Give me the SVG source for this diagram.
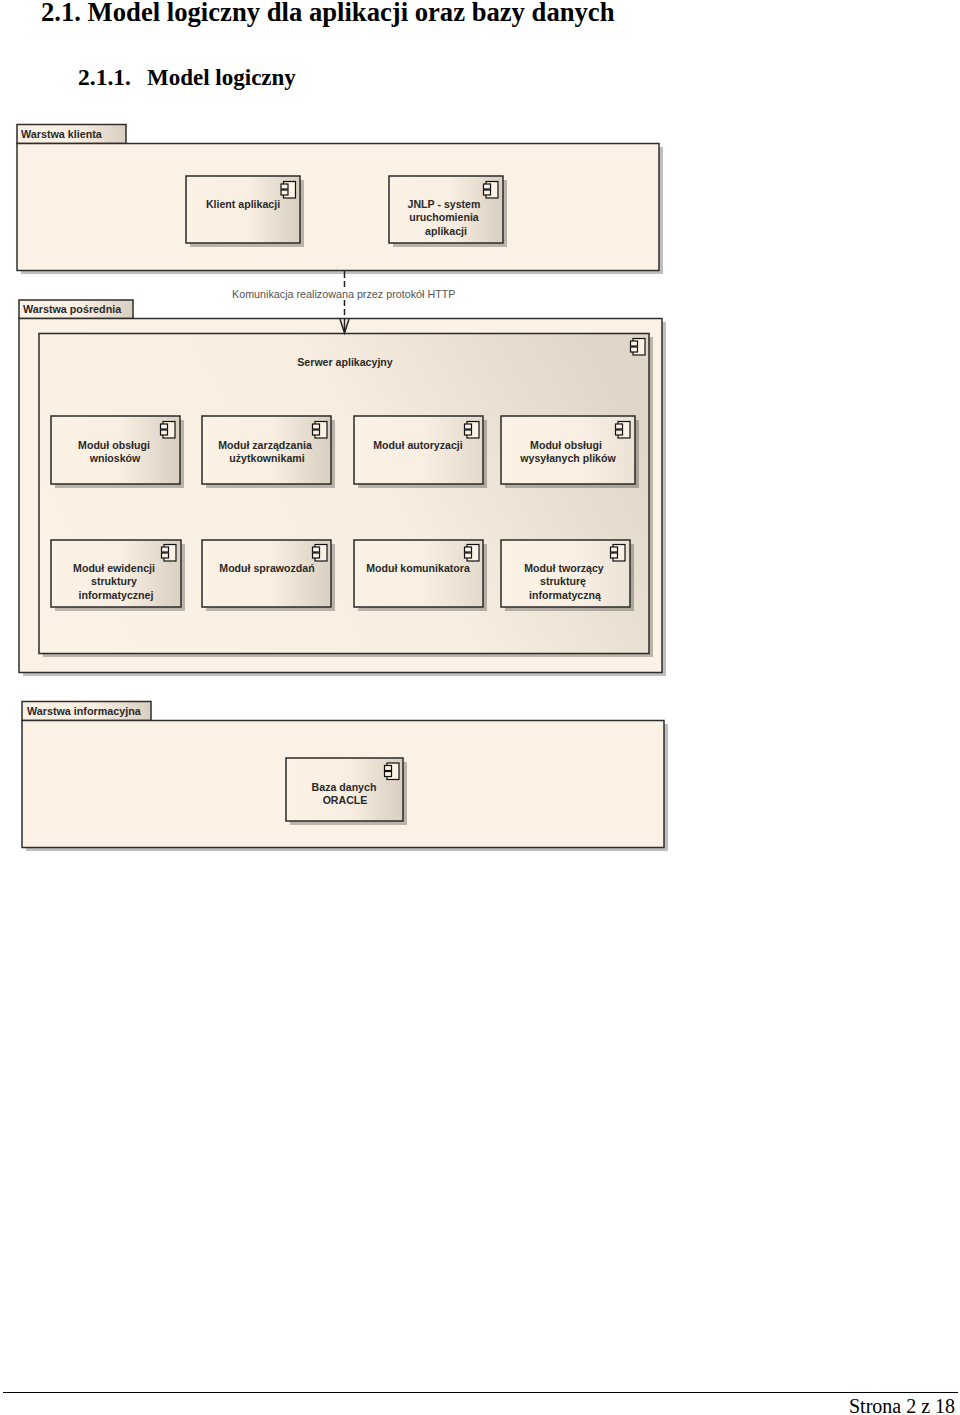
<svg xmlns="http://www.w3.org/2000/svg" xmlns:xlink="http://www.w3.org/1999/xlink" width="960" height="1415" viewBox="0 0 960 1415">
<style>
.h{font-family:"Liberation Serif","Times New Roman",serif;fill:#000;font-weight:bold}
.f{font-family:"Liberation Serif","Times New Roman",serif;fill:#000}
.l{font-family:"Liberation Sans",Arial,sans-serif;font-size:10.6px;font-weight:bold;fill:#2a2a2a;text-anchor:middle}
.t{font-family:"Liberation Sans",Arial,sans-serif;font-size:10.75px;font-weight:bold;fill:#2a2a2a}
.c{font-family:"Liberation Sans",Arial,sans-serif;font-size:10.75px;fill:#555}
.b{fill:#fbf1e4;stroke:#2e2e2e;stroke-width:1.5}
.n{fill:url(#g);stroke:#2a2a2a;stroke-width:1.5}
.n2{fill:url(#g3);stroke:#2a2a2a;stroke-width:1.5}
.n3{fill:url(#g4);stroke:#2a2a2a;stroke-width:1.5}
.sv{fill:url(#g2);stroke:#2a2a2a;stroke-width:1.5}
.tab{fill:url(#g);stroke:#2e2e2e;stroke-width:1.5}
.s{fill:#000;fill-opacity:.25}
.i{fill:#fbf1e4;stroke:#111;stroke-width:1.2}
</style>
<defs>
<linearGradient id="g" x1="0" y1="0" x2="1" y2="0"><stop offset="0" stop-color="#fbf1e4"/><stop offset=".55" stop-color="#f8eee1"/><stop offset="1" stop-color="#d9cfc1"/></linearGradient>
<linearGradient id="g3" x1="0" y1="0" x2="1" y2="0"><stop offset="0" stop-color="#fbf1e4"/><stop offset=".55" stop-color="#f8eee1"/><stop offset="1" stop-color="#e3dacc"/></linearGradient>
<linearGradient id="g4" x1="0" y1="0" x2="1" y2="0"><stop offset="0" stop-color="#fbf1e4"/><stop offset=".6" stop-color="#f9efe2"/><stop offset="1" stop-color="#ebe2d5"/></linearGradient>
<linearGradient id="g2" x1="0" y1="0.6" x2="1" y2="0.3"><stop offset="0" stop-color="#fbf1e4"/><stop offset=".55" stop-color="#f7ede0"/><stop offset="1" stop-color="#e0d6c7"/></linearGradient>
<symbol id="ic" width="16" height="18" viewBox="0 0 16 18" overflow="visible">
<rect class="i" x="3" y="0.500" width="12" height="16.500"/>
<rect class="i" x="0.500" y="3" width="7" height="5"/>
<rect class="i" x="0.500" y="9" width="7" height="5"/>
</symbol>
</defs>
<rect width="960" height="1415" fill="#fff"/>
<text class="h" x="41" y="21" font-size="26.650">2.1. Model logiczny dla aplikacji oraz bazy danych</text>
<text class="h" x="78" y="85" font-size="23.500">2.1.1.</text>
<text class="h" x="147" y="85" font-size="23">Model logiczny</text>

<g id="warstwa-klienta">
<rect class="s" x="21" y="147" width="642" height="127"/>
<rect class="tab" x="17" y="124.500" width="109" height="19"/>
<rect class="b" x="17" y="143.500" width="642" height="127"/>
<text class="t" x="21" y="138">Warstwa klienta</text>
</g>
<g id="klient-aplikacji">
<rect class="s" x="190" y="180" width="114" height="67"/>
<rect class="n" x="186" y="176" width="114" height="67"/>
<use xlink:href="#ic" href="#ic" x="280.500" y="181"/>
<text class="l" x="243" y="208">Klient aplikacji</text>
</g>
<g id="jnlp">
<rect class="s" x="393" y="180" width="114" height="67"/>
<rect class="n" x="389" y="176" width="114" height="67"/>
<use xlink:href="#ic" href="#ic" x="483" y="181"/>
<text class="l" x="444" y="208">JNLP - system</text>
<text class="l" x="444" y="221">uruchomienia</text>
<text class="l" x="446" y="235">aplikacji</text>
</g>

<g id="warstwa-posrednia">
<rect class="s" x="23" y="322" width="643" height="354"/>
<rect class="tab" x="19" y="300" width="114" height="18.500"/>
<rect class="b" x="19" y="318.500" width="643" height="354"/>
<text class="t" x="23" y="313">Warstwa pośrednia</text>
</g>
<g id="serwer-aplikacyjny">
<rect class="s" x="43" y="337" width="610" height="320"/>
<rect class="sv" x="39" y="333.500" width="610" height="320"/>
<use xlink:href="#ic" href="#ic" x="630" y="338"/>
<text class="l" x="345" y="366">Serwer aplikacyjny</text>
</g>
<g id="m1">
<rect class="s" x="55" y="420" width="129" height="68"/>
<rect class="n" x="51" y="416" width="129" height="68"/>
<use xlink:href="#ic" href="#ic" x="160" y="421"/>
<text class="l" x="114" y="449">Moduł obsługi</text>
<text class="l" x="115" y="462">wniosków</text>
</g>
<g id="m2">
<rect class="s" x="206" y="420" width="129" height="68"/>
<rect class="n" x="202" y="416" width="129" height="68"/>
<use xlink:href="#ic" href="#ic" x="312" y="421"/>
<text class="l" x="265" y="449">Moduł zarządzania</text>
<text class="l" x="267" y="462">użytkownikami</text>
</g>
<g id="m3">
<rect class="s" x="358" y="420" width="129" height="68"/>
<rect class="n2" x="354" y="416" width="129" height="68"/>
<use xlink:href="#ic" href="#ic" x="464" y="421"/>
<text class="l" x="418" y="449">Moduł autoryzacji</text>
</g>
<g id="m4">
<rect class="s" x="505" y="420" width="134" height="68"/>
<rect class="n3" x="501" y="416" width="134" height="68"/>
<use xlink:href="#ic" href="#ic" x="615" y="421"/>
<text class="l" x="566" y="449">Moduł obsługi</text>
<text class="l" x="568" y="462">wysyłanych plików</text>
</g>
<g id="m5">
<rect class="s" x="55" y="544" width="130" height="67"/>
<rect class="n" x="51" y="540" width="130" height="67"/>
<use xlink:href="#ic" href="#ic" x="161" y="544"/>
<text class="l" x="114" y="572">Moduł ewidencji</text>
<text class="l" x="114" y="585">struktury</text>
<text class="l" x="116" y="599">informatycznej</text>
</g>
<g id="m6">
<rect class="s" x="206" y="544" width="129" height="67"/>
<rect class="n" x="202" y="540" width="129" height="67"/>
<use xlink:href="#ic" href="#ic" x="312" y="544"/>
<text class="l" x="267" y="572">Moduł sprawozdań</text>
</g>
<g id="m7">
<rect class="s" x="358" y="544" width="129" height="67"/>
<rect class="n2" x="354" y="540" width="129" height="67"/>
<use xlink:href="#ic" href="#ic" x="464" y="544"/>
<text class="l" x="418" y="572">Moduł komunikatora</text>
</g>
<g id="m8">
<rect class="s" x="505" y="544" width="129" height="67"/>
<rect class="n3" x="501" y="540" width="129" height="67"/>
<use xlink:href="#ic" href="#ic" x="610" y="544"/>
<text class="l" x="564" y="572">Moduł tworzący</text>
<text class="l" x="563" y="585">strukturę</text>
<text class="l" x="565" y="599">informatyczną</text>
</g>

<g id="warstwa-informacyjna">
<rect class="s" x="26" y="724" width="642" height="127"/>
<rect class="tab" x="22" y="701.500" width="129" height="19"/>
<rect class="b" x="22" y="720.500" width="642" height="127"/>
<text class="t" x="27" y="715">Warstwa informacyjna</text>
</g>
<g id="baza-danych">
<rect class="s" x="290" y="762" width="117" height="63"/>
<rect class="n" x="286" y="758" width="117" height="63"/>
<use xlink:href="#ic" href="#ic" x="384" y="762.500"/>
<text class="l" x="344" y="791">Baza danych</text>
<text class="l" x="345" y="804">ORACLE</text>
</g>

<g id="connectors" fill="none" stroke="#222" stroke-width="1.5">
<path d="M344.500 271V278M344.500 281V287M344.500 300V306M344.500 309V315M344.500 318V332"/>
<path d="M340 319L344.500 333L349 319"/>
<text class="c" x="232" y="298" stroke="none" fill="#555">Komunikacja realizowana przez protokół HTTP</text>
</g>

<path d="M3 1392.500H958" stroke="#000" stroke-width="1"/>
<text class="f" x="849" y="1413" font-size="20">Strona 2 z 18</text>
</svg>
